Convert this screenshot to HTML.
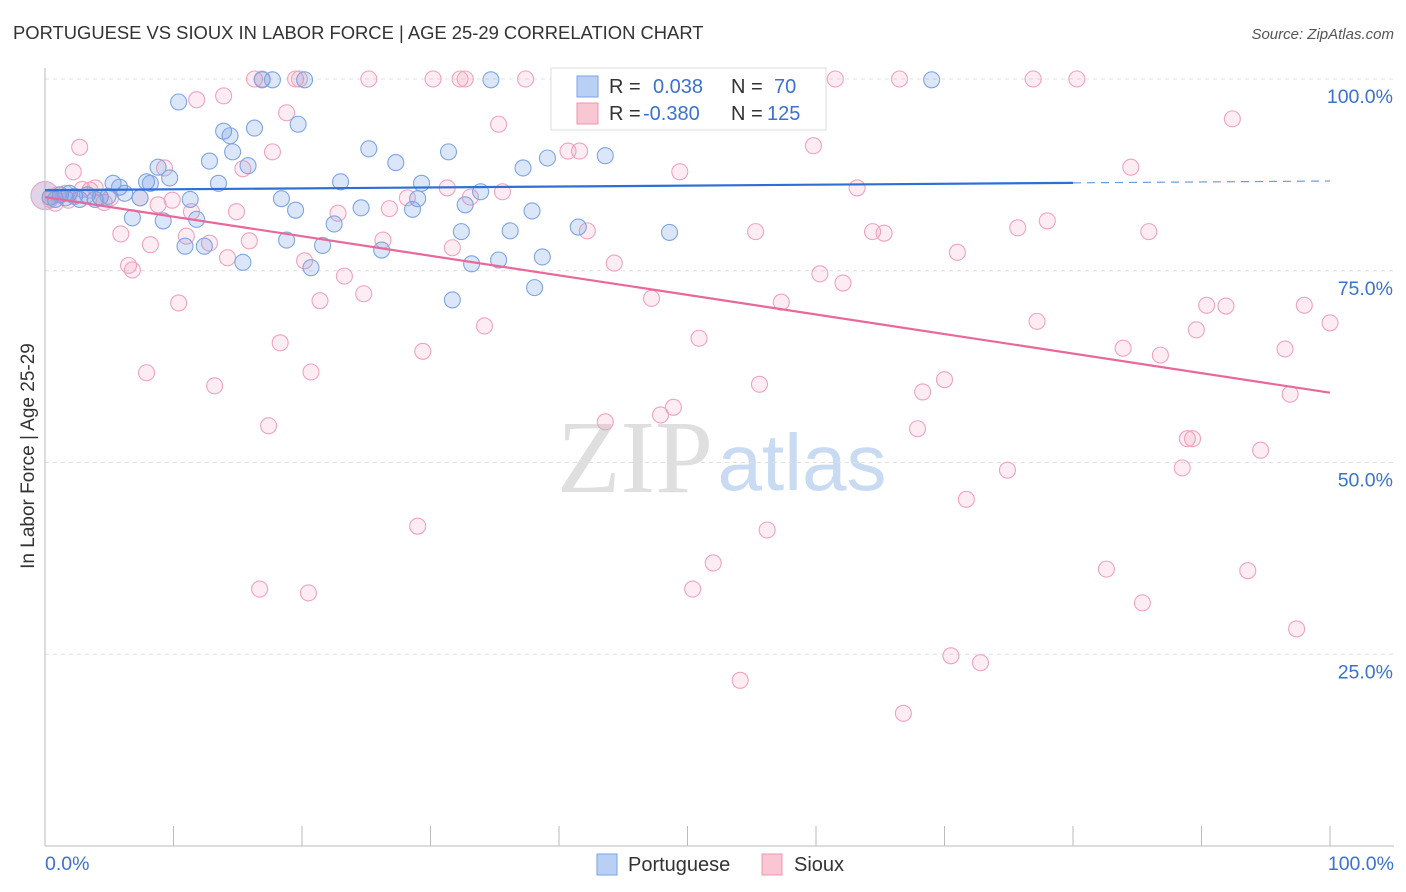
<!DOCTYPE html>
<html><head><meta charset="utf-8">
<style>
body{margin:0;background:#fff;font-family:"Liberation Sans",sans-serif;}
#wrap{position:relative;width:1406px;height:892px;overflow:hidden;}
svg{position:absolute;left:0;top:0;}
</style></head>
<body>
<div id="wrap">
<svg id="chart" width="1406" height="892" xmlns="http://www.w3.org/2000/svg">
<text x="13" y="39" font-size="18.4" fill="#333">PORTUGUESE VS SIOUX IN LABOR FORCE | AGE 25-29 CORRELATION CHART</text>
<text x="1394" y="39" font-size="15" fill="#555" font-style="italic" text-anchor="end">Source: ZipAtlas.com</text>
<text transform="translate(34,456) rotate(-90)" font-size="19" fill="#333" text-anchor="middle">In Labor Force | Age 25-29</text>
<g>
<text x="635" y="492" font-size="104" font-family="Liberation Serif,serif" fill="#d8d8d8" text-anchor="middle" opacity="0.8">ZIP</text>
<text x="802" y="490" font-size="80" fill="#bcd3ef" text-anchor="middle" opacity="0.8">atlas</text>
</g>
<g id="grid"></g>
<g id="points"></g>
<g id="trends"></g>
<g>
<rect x="551" y="68" width="275" height="62" fill="#fff" stroke="#ddd"/>
<rect x="577" y="76" width="21" height="21" fill="#b8d0f4" stroke="#7aa3e0"/>
<rect x="577" y="103" width="21" height="21" fill="#f9c6d4" stroke="#ec97b2"/>
<text x="609" y="93" font-size="20" fill="#333">R =</text>
<text x="653" y="93" font-size="20" fill="#3a72d0">0.038</text>
<text x="731" y="93" font-size="20" fill="#333">N =</text>
<text x="774" y="93" font-size="20" fill="#3a72d0">70</text>
<text x="609" y="120" font-size="20" fill="#333">R =</text>
<text x="643" y="120" font-size="20" fill="#3a72d0">-0.380</text>
<text x="731" y="120" font-size="20" fill="#333">N =</text>
<text x="767" y="120" font-size="20" fill="#3a72d0">125</text>
</g>
<g>
<rect x="597" y="854" width="20" height="21" fill="#b8d0f4" stroke="#7aa3e0"/>
<text x="628" y="871" font-size="20" fill="#333">Portuguese</text>
<rect x="762" y="854" width="20" height="21" fill="#f9c6d4" stroke="#ec97b2"/>
<text x="794" y="871" font-size="20" fill="#333">Sioux</text>
</g>
</svg>
</div>
<script>
const yTicks=[25,50,75,100];
const yTickLabels=["25.0%","50.0%","75.0%","100.0%"];
const xTickLabels=["0.0%","100.0%"];
const blueX=[0.4,0.8,1.2,1.6,1.9,2.3,2.7,3.3,3.9,4.3,4.9,5.3,5.8,6.2,6.8,7.4,7.9,8.2,8.8,9.2,9.7,10.4,10.9,11.3,11.8,12.4,12.8,13.5,13.9,14.4,14.6,15.4,15.8,16.3,16.9,17.7,18.4,18.8,19.5,19.7,20.2,20.7,21.6,22.5,23.0,24.6,25.2,26.2,27.3,28.6,29.0,29.3,31.4,31.7,32.4,32.7,33.2,33.9,34.7,35.3,36.2,37.2,37.9,38.7,38.1,39.1,41.5,43.6,48.6,69.0];
const blueY=[84.6,84.3,84.9,84.5,85.1,84.7,84.3,84.9,84.3,84.6,84.7,86.4,85.9,85.1,81.9,84.5,86.6,86.4,88.5,81.5,87.1,97.0,78.2,84.3,81.7,78.2,89.3,86.4,93.2,92.6,90.5,76.1,88.7,93.6,99.9,99.9,84.4,79.0,82.9,94.1,99.9,75.4,78.3,81.1,86.6,83.2,90.9,77.7,89.1,83.0,84.4,86.4,90.5,71.2,80.1,83.6,75.9,85.3,99.9,76.4,80.2,88.4,82.8,76.8,72.8,89.7,80.7,90.0,80.0,99.9];
const pinkX=[0.4,1.0,1.6,2.2,2.7,3.5,3.9,4.3,5.1,5.9,6.5,6.8,7.4,7.9,8.2,8.8,9.3,9.9,10.4,11.0,11.4,11.8,12.8,13.2,13.9,14.2,14.9,15.4,15.9,16.3,16.7,16.9,17.4,17.7,18.3,18.8,19.5,19.8,20.5,20.7,21.4,20.2,22.8,23.3,24.8,25.2,26.3,26.8,28.2,29.0,29.4,30.2,31.3,31.7,32.3,32.7,33.1,34.2,35.3,35.6,37.4,40.7,41.6,42.2,43.6,44.3,47.2,47.9,48.9,49.4,50.4,50.9,52.0,54.1,55.3,55.6,56.2,57.3,59.3,59.8,60.3,61.5,62.1,63.2,64.4,65.3,66.5,66.8,67.9,68.3,70.0,70.5,71.0,71.7,72.8,74.9,75.7,76.9,77.2,78.0,80.3,82.6,83.9,84.5,85.4,85.9,86.8,88.5,88.9,89.3,89.6,90.4,91.9,92.4,93.6,94.6,96.5,96.9,97.4,98.0,100,0.8,1.8,2.9,4.6];
const pinkY=[84.3,84.9,85.1,87.9,91.1,85.5,85.8,84.6,84.5,79.8,75.7,75.1,84.5,61.7,78.4,83.6,88.4,84.2,70.8,79.5,82.7,97.3,78.6,60.0,97.8,76.7,82.7,88.3,78.9,100,33.5,100,54.8,90.5,65.6,95.6,100,100,33.0,61.8,71.1,76.3,82.5,74.3,72.0,100,79.0,83.1,84.5,41.7,64.5,100,85.8,78.0,100,100,84.6,67.8,94.1,85.3,100,90.6,90.6,80.2,55.3,76.0,71.4,56.2,57.2,87.9,33.5,66.2,36.9,21.6,80.1,60.2,41.2,70.9,100,91.3,74.6,100,73.4,85.8,80.1,79.9,100,17.3,54.4,59.2,60.8,24.8,77.4,45.2,23.9,49.0,80.6,100,68.4,81.5,100,36.1,64.9,88.5,31.7,80.1,64.0,49.3,53.1,53.1,67.3,70.5,70.4,94.8,35.9,51.6,64.8,58.9,28.3,70.5,68.2,83.8,84.2,85.6,83.9];
const blueTrend=[85.5,86.7];
const pinkTrend=[84.6,59.1];
const X0=45,X1=1330,Y0=846,Y100=79;
const sx=v=>X0+(X1-X0)*v/100;
const sy=v=>Y0-(Y0-Y100)*v/100;
const NS="http://www.w3.org/2000/svg";
function mk(tag,attrs,parent){const e=document.createElementNS(NS,tag);for(const k in attrs)e.setAttribute(k,attrs[k]);parent.appendChild(e);return e;}
const grid=document.getElementById('grid');
yTicks.forEach((t,i)=>{
  const l=mk('line',{x1:45,x2:1394,y1:sy(t),y2:sy(t),stroke:'#e0e0e0','stroke-dasharray':'4,4'},grid);
  
  
  const tx=mk('text',{x:1393,y:sy(t)+24,'font-size':19.5,fill:'#3a72d0','text-anchor':'end'},grid);
  tx.textContent=yTickLabels[i];
  
  
});
const ax=mk('line',{x1:45,x2:45,y1:68,y2:846,stroke:'#bbb'},grid);


const bx=mk('line',{x1:45,x2:1394,y1:846,y2:846,stroke:'#bbb'},grid);


for(let i=0;i<=10;i++){
  const t=mk('line',{x1:sx(i*10),x2:sx(i*10),y1:826,y2:846,stroke:'#bbb'},grid);
  
  
}
[[0,'start',45],[100,'end',1394]].forEach((d,i)=>{
  const tx=mk('text',{x:d[2],y:870,'font-size':19.5,fill:'#3a72d0','text-anchor':d[1]},grid);
  tx.textContent=xTickLabels[i];
  
  
});
const pts=document.getElementById('points');
function big(fill,stroke){const c=mk('circle',{cx:sx(0),cy:sy(84.8),r:14,fill:fill,stroke:stroke},pts);

}
big('rgba(120,160,230,0.25)','#8fb0e6');
big('rgba(240,140,170,0.2)','#f0a9c0');
pinkX.forEach((x,i)=>{
  const c=mk('circle',{cx:sx(x),cy:sy(pinkY[i]),r:8,fill:'rgba(243,150,180,0.18)',stroke:'#f0a3bc','stroke-width':1.1},pts);
  
  
});
blueX.forEach((x,i)=>{
  const c=mk('circle',{cx:sx(x),cy:sy(blueY[i]),r:8,fill:'rgba(110,155,230,0.25)',stroke:'#7ea5e3','stroke-width':1.1},pts);
  
  
});
const tr=document.getElementById('trends');
const bAt=v=>blueTrend[0]+(blueTrend[1]-blueTrend[0])*v/100;
const l1=mk('line',{x1:sx(0),y1:sy(bAt(0)),x2:sx(80),y2:sy(bAt(80)),stroke:'#2e6fd6','stroke-width':2.2},tr);


const l2=mk('line',{x1:sx(80),y1:sy(bAt(80)),x2:sx(100),y2:sy(bAt(100)),stroke:'#6f9be0','stroke-width':1.2,'stroke-dasharray':'8,6'},tr);


const l3=mk('line',{x1:sx(0),y1:sy(pinkTrend[0]),x2:sx(100),y2:sy(pinkTrend[1]),stroke:'#e8689a','stroke-width':2.2},tr);


</script>
</body></html>
